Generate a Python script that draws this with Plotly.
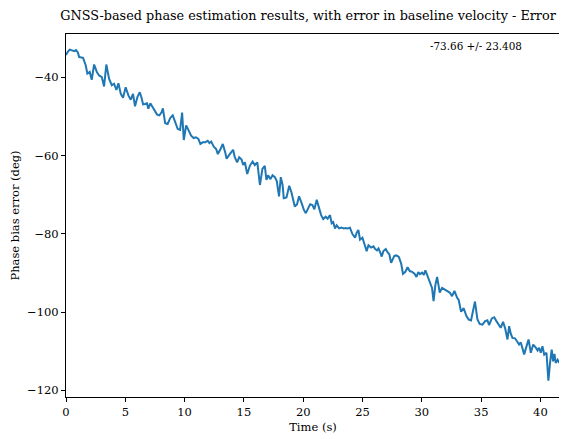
import plotly.graph_objects as go

# Time (s)
time_s = [
    0.0, 0.12, 0.31, 0.5, 0.7, 0.85, 1.0, 1.11, 1.29, 1.44, 1.66, 1.8, 2.0, 2.17, 2.37, 2.6, 2.79, 3.02,
    3.21, 3.4, 3.63, 3.86, 4.05, 4.25, 4.42, 4.62, 4.81, 5.03, 5.26, 5.46, 5.65, 5.82, 6.02, 6.22, 6.37,
    6.5, 6.66,
    6.83, 6.94, 7.11, 7.31, 7.51, 7.68, 7.87, 8.06, 8.17, 8.36, 8.57, 8.8, 9.0, 9.2, 9.42, 9.62, 9.79,
    9.93, 10.13, 10.32, 10.55, 10.76, 10.96, 11.16, 11.33, 11.53, 11.73, 11.95, 12.09, 12.24, 12.46,
    12.66, 12.8, 13.03, 13.22, 13.42, 13.54, 13.76,
    13.95, 14.09, 14.23, 14.43, 14.6, 14.8, 14.94, 15.08, 15.28, 15.5, 15.73, 15.92, 16.13, 16.35, 16.56,
    16.76, 16.9, 17.04, 17.24, 17.41, 17.61, 17.77, 17.96, 18.11, 18.26, 18.36, 18.59, 18.82, 19.01,
    19.16, 19.29, 19.48, 19.65, 19.85, 20.05, 20.22, 20.42, 20.59,
    20.77, 20.94, 21.14, 21.34, 21.51, 21.69, 21.89, 22.06, 22.26, 22.4, 22.53, 22.68, 22.82, 23.03,
    23.23, 23.42, 23.57, 23.74, 23.94, 24.14, 24.37, 24.51, 24.65, 24.79, 24.99, 25.16, 25.35, 25.5,
    25.72, 25.92, 26.07, 26.22, 26.35, 26.49, 26.62, 26.76, 26.96, 27.11, 27.26, 27.41,
    27.68, 27.86, 28.06, 28.26, 28.41, 28.61, 28.8, 28.98, 29.18, 29.38, 29.55, 29.7, 29.83, 30.03,
    30.17, 30.3, 30.5, 30.67, 30.86, 30.99, 31.14, 31.29, 31.39, 31.51, 31.71, 31.89, 32.09, 32.35,
    32.55, 32.75, 32.97, 33.11, 33.31, 33.53, 33.76, 33.96, 34.15, 34.32, 34.48,
    34.69, 34.88, 35.11, 35.34, 35.53, 35.67, 35.9, 36.1, 36.29, 36.46, 36.65, 36.85, 37.03, 37.22,
    37.36, 37.5, 37.64, 37.86, 38.03, 38.2, 38.34, 38.49, 38.63, 38.83, 39.0, 39.19, 39.39, 39.61,
    39.76, 39.89, 40.03, 40.17, 40.32, 40.51, 40.67, 40.81, 40.95, 41.07, 41.18, 41.29, 41.45, 41.6,
]

# Phase bias error (deg)
phase_err = [
    -34.3, -33.6, -32.9, -33.2, -33.3, -33.0, -33.6, -34.8, -35.0, -35.0, -36.9, -39.0, -38.6, -40.6,
    -36.7, -38.6, -39.5, -39.9, -42.3, -36.7, -40.3, -42.0, -41.6, -43.2, -41.5, -44.2, -45.2, -42.5,
    -44.6, -45.7, -44.2, -47.4, -45.0, -43.8, -45.2, -46.9, -46.8,
    -46.6, -48.0, -46.6, -47.6, -48.5, -49.5, -49.7, -48.9, -47.9, -51.7, -51.9, -50.3, -49.7, -51.4,
    -53.2, -53.4, -49.0, -56.0, -52.3, -53.4, -54.9, -55.5, -55.3, -55.7, -57.0, -56.6, -56.6, -56.2,
    -56.8, -56.4, -57.7, -58.3, -59.6, -58.3, -57.0, -59.1, -60.8, -59.8,
    -59.0, -58.5, -60.4, -61.7, -60.4, -61.0, -62.4, -61.7, -64.7, -62.6, -61.5, -62.4, -61.7, -67.5,
    -63.4, -62.6, -66.2, -65.0, -66.0, -65.0, -65.5, -66.5, -70.4, -65.5, -67.5, -70.9, -70.7, -67.7,
    -69.4, -71.3, -73.0, -72.4, -70.4, -72.0, -73.8, -74.7, -73.5, -72.4,
    -72.6, -73.7, -71.3, -73.7, -75.2, -76.2, -75.6, -76.1, -75.2, -77.3, -77.0, -78.6, -77.8, -78.6,
    -78.4, -78.6, -78.5, -78.6, -78.4, -80.0, -81.0, -79.7, -79.0, -81.5, -81.0, -82.6, -84.4, -82.9,
    -83.5, -83.2, -83.9, -84.2, -83.7, -84.7, -85.8, -84.4, -83.9, -84.7, -85.2, -87.4,
    -85.6, -85.5, -85.9, -87.6, -90.2, -89.7, -88.5, -89.5, -89.7, -90.2, -91.0, -89.8, -90.3, -89.9,
    -90.5, -89.3, -90.8, -92.5, -93.8, -97.2, -93.1, -91.0, -92.5, -95.0, -93.8, -94.2, -94.5, -95.0,
    -95.9, -94.6, -96.3, -96.9, -99.9, -99.0, -101.0, -101.9, -102.1, -99.7, -97.3,
    -101.9, -103.0, -103.2, -102.3, -102.1, -103.3, -101.6, -101.3, -102.3, -103.2, -104.0, -102.5,
    -104.2, -107.0, -103.6, -105.5, -106.6, -106.7, -107.5, -108.3, -107.7, -109.1, -110.8, -108.7,
    -107.0, -110.4, -108.3, -109.1, -109.8, -109.1, -110.4, -108.7, -110.9, -110.4, -117.5, -113.0,
    -109.6, -112.6, -110.7, -113.0, -112.2, -113.0,
]

x_ticks = [0, 5, 10, 15, 20, 25, 30, 35, 40]
y_ticks = [-40, -60, -80, -100, -120]
y_tick_labels = ["\u221240", "\u221260", "\u221280", "\u2212100", "\u2212120"]

title_text = "GNSS-based phase estimation results, with error in baseline velocity - Error"
stats_text = "-73.66 +/- 23.408"

FONT = "DejaVu Serif"

# The page body has an 8 px default margin, so the figure is 8 px smaller.
W, H = 559, 431
ML, MR, MT, MB = 58, 7, 26, 42
PW, PH = W - ML - MR, H - MT - MB

fig = go.Figure()
fig.add_trace(go.Scatter(
    x=time_s, y=phase_err, mode="lines",
    line=dict(color="#1f77b4", width=2.0),
    showlegend=False, hoverinfo="skip",
))

axis_common = dict(
    showgrid=False, zeroline=False, showline=True, linecolor="black", linewidth=1,
    mirror=True, ticks="outside", ticklen=4, tickwidth=1, tickcolor="black",
    automargin=False,
    tickfont=dict(family=FONT, size=11.5, color="black"),
)

fig.update_layout(
    width=W, height=H,
    margin=dict(l=ML, r=MR, t=MT, b=MB, autoexpand=False),
    paper_bgcolor="white", plot_bgcolor="white",
    font=dict(family=FONT, color="black"),
    title=dict(text=title_text, x=300 / W, xanchor="center", y=1 - 8 / H, yanchor="middle",
               font=dict(family=FONT, size=12.8, color="black")),
    xaxis=dict(range=[0, 41.65], tickvals=x_ticks,
               title=dict(text="Time (s)", font=dict(family=FONT, size=11.5), standoff=5),
               **axis_common),
    yaxis=dict(range=[-121.7, -28.9], tickvals=y_ticks, ticktext=y_tick_labels,
               title=dict(text="Phase bias error (deg)", font=dict(family=FONT, size=11.5), standoff=6),
               **axis_common),
    annotations=[dict(
        text=stats_text, xref="paper", yref="paper",
        x=(419.5 - ML) / PW, y=1 - (38 - MT) / PH, xanchor="left", yanchor="middle",
        showarrow=False, font=dict(family=FONT, size=10.4, color="black"),
    )],
)

fig.write_html("out.html")
